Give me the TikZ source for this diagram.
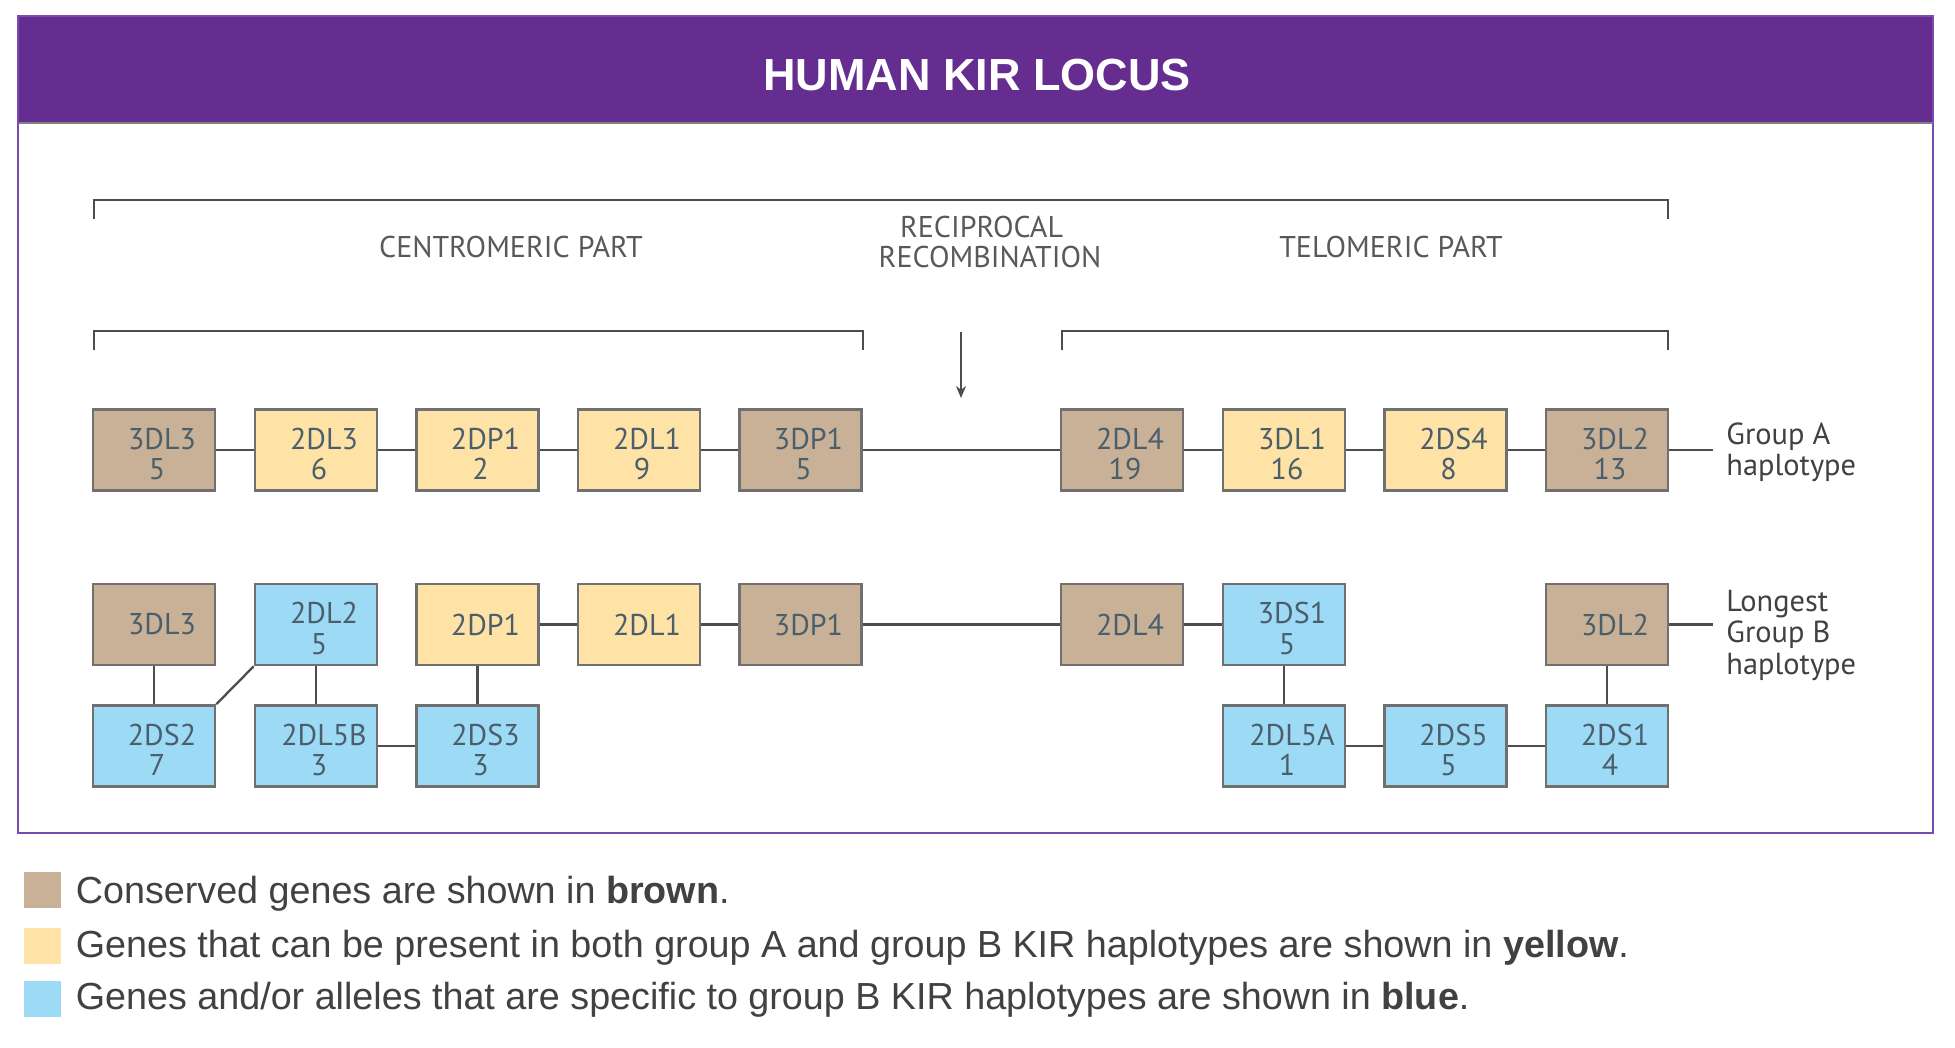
\documentclass[tikz,border=0pt]{standalone}
\usepackage{fontspec}
\usetikzlibrary{arrows.meta}
\setmainfont{Liberation Sans}
\newfontfamily\genefont{PT Sans}
\newfontfamily\legfont{Liberation Sans}
\definecolor{kpurple}{HTML}{652D8F}
\definecolor{kframe}{HTML}{7A4BB0}
\definecolor{kbrown}{HTML}{C8B196}
\definecolor{kyellow}{HTML}{FEE2A6}
\definecolor{kblue}{HTML}{9DDAF6}
\definecolor{kborder}{HTML}{707070}
\definecolor{kline}{HTML}{4D4D4D}
\definecolor{ktext}{HTML}{4A5E6B}
\definecolor{klabel}{HTML}{58595B}
\definecolor{klegend}{HTML}{414042}
% gene box contents: two lines (name, number) or one line
\newcommand\gtwo[2]{\rule{0pt}{14.5pt}\hspace*{8pt}#1\\\hspace*{3pt}#2}
\newcommand\gone[1]{\hspace*{8pt}#1}
\tikzset{
  gene/.style={draw=kborder, line width=1.35pt, minimum width=61pt, minimum height=40.5pt,
    inner sep=0pt, align=center, text=ktext, font=\genefont\fontsize{15pt}{15.3pt}\selectfont},
  gbrown/.style={gene, fill=kbrown},
  gyellow/.style={gene, fill=kyellow},
  gblue/.style={gene, fill=kblue},
  conn/.style={draw=kline, line width=1.15pt},
  brack/.style={draw=kline, line width=1pt},
  partlabel/.style={anchor=base, text=klabel, inner sep=0pt, font=\genefont\fontsize{15pt}{16pt}\selectfont},
  grouplabel/.style={anchor=north west, text=klegend, inner sep=0pt, align=left, font=\genefont\fontsize{15.2pt}{15.6pt}\selectfont},
  legsq/.style={minimum width=18.5pt, minimum height=18pt, inner sep=0pt},
  legtext/.style={anchor=base west, inner sep=0pt, text=klegend, font=\legfont\fontsize{18.85pt}{21pt}\selectfont}
}
\begin{document}
\begin{tikzpicture}[x=0.5pt,y=-0.5pt]
\useasboundingbox (0,0) rectangle (1955,1048);
% header and frame
\fill[kpurple] (17.5,16) rectangle (1933.5,123);
\draw[kframe, line width=0.8pt] (18,16) rectangle (1933,833);
\draw[gray, line width=0.6pt] (18.5,123) -- (1932.5,123);
\node[anchor=base, text=white, inner sep=0pt, font=\bfseries\fontsize{22.5pt}{24pt}\selectfont] (title) at (977,91) {HUMAN KIR LOCUS};
% brackets
\coordinate (t1) at (93.5,219); \coordinate (t2) at (93.5,200);
\coordinate (t3) at (1668,200); \coordinate (t4) at (1668,219);
\draw[brack] (t1) -- (t2) -- (t3) -- (t4);
\coordinate (c1a) at (93.5,350); \coordinate (c1b) at (93.5,331);
\coordinate (c1c) at (863,331); \coordinate (c1d) at (863,350);
\draw[brack] (c1a) -- (c1b) -- (c1c) -- (c1d);
\coordinate (e1a) at (1062,350); \coordinate (e1b) at (1062,331);
\coordinate (e1c) at (1668,331); \coordinate (e1d) at (1668,350);
\draw[brack] (e1a) -- (e1b) -- (e1c) -- (e1d);
\coordinate (arrs) at (961,332); \coordinate (arre) at (961,398);
\draw[brack, -{Stealth[length=6pt,width=5pt]}] (arrs) -- (arre);
% part labels
\node[partlabel] (centro) at (511,258) {CENTROMERIC PART};
\node[partlabel] (telo) at (1391,258) {TELOMERIC PART};
\node[partlabel] (recip) at (981.5,237.5) {RECIPROCAL};
\node[partlabel] (recomb) at (990,268) {RECOMBINATION};
% row 1
\node[gbrown]  (a1) at (154,450)   {\gtwo{3DL3}{5}};
\node[gyellow] (a2) at (316,450)   {\gtwo{2DL3}{6}};
\node[gyellow] (a3) at (477.5,450) {\gtwo{2DP1}{2}};
\node[gyellow] (a4) at (639,450)   {\gtwo{2DL1}{9}};
\node[gbrown]  (a5) at (800.5,450) {\gtwo{3DP1}{5}};
\node[gbrown]  (a6) at (1122,450)  {\gtwo{2DL4}{19}};
\node[gyellow] (a7) at (1284,450)  {\gtwo{3DL1}{16}};
\node[gyellow] (a8) at (1445.5,450){\gtwo{2DS4}{8}};
\node[gbrown]  (a9) at (1607,450)  {\gtwo{3DL2}{13}};
% row 2
\node[gbrown]  (b1) at (154,624.5)   {\gone{3DL3}};
\node[gblue]   (b2) at (316,624.5)   {\gtwo{2DL2}{5}};
\node[gyellow] (b3) at (477.5,624.5) {\gone{2DP1}};
\node[gyellow] (b4) at (639,624.5)   {\gone{2DL1}};
\node[gbrown]  (b5) at (800.5,624.5) {\gone{3DP1}};
\node[gbrown]  (b6) at (1122,624.5)  {\gone{2DL4}};
\node[gblue]   (b7) at (1284,624.5)  {\gtwo{3DS1}{5}};
\node[gbrown]  (b9) at (1607,624.5)  {\gone{3DL2}};
% row 3
\node[gblue] (d1) at (154,746)    {\gtwo{2DS2}{7}};
\node[gblue] (d2) at (316,746)    {\gtwo{2DL5B}{3}};
\node[gblue] (d3) at (477.5,746)  {\gtwo{2DS3}{3}};
\node[gblue] (d7) at (1284,746)   {\gtwo{2DL5A}{1}};
\node[gblue] (d8) at (1445.5,746) {\gtwo{2DS5}{5}};
\node[gblue] (d9) at (1607,746)   {\gtwo{2DS1}{4}};
% connectors row 1
\draw[conn] (a1.east) -- (a2.west);
\draw[conn] (a2.east) -- (a3.west);
\draw[conn] (a3.east) -- (a4.west);
\draw[conn] (a4.east) -- (a5.west);
\draw[conn] (a5.east) -- (a6.west);
\draw[conn] (a6.east) -- (a7.west);
\draw[conn] (a7.east) -- (a8.west);
\draw[conn] (a8.east) -- (a9.west);
\coordinate (ga) at (1713,450);
\draw[conn] (a9.east) -- (ga);
% connectors row 2/3
\draw[conn] (b1.south) -- (d1.north);
\draw[conn] (d1.north east) -- (b2.south west);
\draw[conn] (b2.south) -- (d2.north);
\draw[conn] (d2.east) -- (d3.west);
\draw[conn] (b3.south) -- (d3.north);
\draw[conn] (b3.east) -- (b4.west);
\draw[conn] (b4.east) -- (b5.west);
\draw[conn] (b5.east) -- (b6.west);
\draw[conn] (b6.east) -- (b7.west);
\draw[conn] (b7.south) -- (d7.north);
\draw[conn] (d7.east) -- (d8.west);
\draw[conn] (d8.east) -- (d9.west);
\draw[conn] (b9.south) -- (d9.north);
\coordinate (gb) at (1713,624.5);
\draw[conn] (b9.east) -- (gb);
% group labels
\node[grouplabel] (lga) at (1726,422) {Group A\\haplotype};
\node[grouplabel] (lgb) at (1726,590) {Longest\\Group B\\haplotype};
% legend
\node[legsq, fill=kbrown, anchor=north west] (sq1) at (24,872) {};
\node[legsq, fill=kyellow, anchor=north west] (sq2) at (24,928) {};
\node[legsq, fill=kblue, anchor=north west] (sq3) at (24,981) {};
\node[legtext] (lt1) at (75.5,903) {Conserved genes are shown in {\bfseries brown}.};
\node[legtext] (lt2) at (75.5,957) {Genes that can be present in both group A and group B KIR haplotypes are shown in {\bfseries yellow}.};
\node[legtext] (lt3) at (75.5,1009) {Genes and/or alleles that are specific to group B KIR haplotypes are shown in {\bfseries blue}.};
\end{tikzpicture}
\end{document}
